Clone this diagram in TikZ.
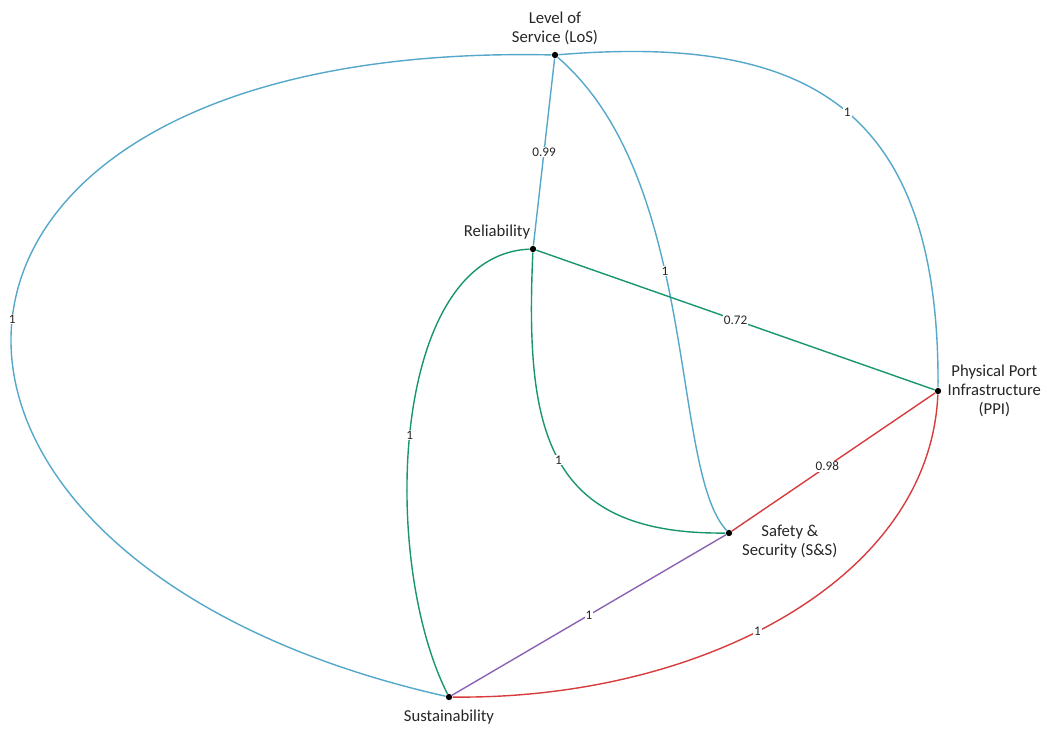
\documentclass[tikz,border=0pt]{standalone}
\usepackage{fontspec}
\setmainfont{Carlito}
\usepackage{xcolor}
\usepackage{tikz}
\definecolor{losblue}{RGB}{85,168,202}
\definecolor{relgreen}{RGB}{25,150,110}
\definecolor{ppired}{RGB}{215,60,62}
\definecolor{sspurple}{RGB}{140,98,180}
\tikzset{dot/.style={circle, fill=black, inner sep=0pt, minimum size=3.6pt}, lbl/.style={font=\fontsize{9.5}{11}\selectfont, align=center, text=black!85}, wlbl/.style={fill=white, inner sep=0.6pt, font=\fontsize{7.5}{8}\selectfont, text=black!85}, edge/.style={line width=0.8pt}}

\begin{document}
\begin{tikzpicture}[x=0.2mm, y=-0.2mm]
\useasboundingbox (0,0) rectangle (1047,731);
 \node[dot, label={[lbl]above:Level of\\Service (LoS)}] (los) at (555,55) {};
 \node[dot, label={[lbl, xshift=4pt, label distance=1pt]above left:Reliability}] (rel) at (533,249) {};
 \node[dot, label={[lbl, label distance=0pt]right:Physical Port\\Infrastructure\\(PPI)}] (ppi) at (938,391) {};
 \node[dot, label={[lbl, yshift=-5pt, label distance=2pt]right:Safety \&\\Security (S\&S)}] (ss) at (729,533) {};
 \node[dot, label={[lbl, label distance=2pt]below:Sustainability}] (sus) at (449,697) {};
 % blue edges
 \draw[edge, losblue] (los) .. controls (-140,40) and (-160,560) .. node[wlbl, pos=0.5] (w1) {1} (sus);
 \draw[edge, losblue] (los) .. controls (800,35) and (940,100) .. node[wlbl, pos=0.52] (w2) {1} (ppi);
 \draw[edge, losblue] (los) .. controls (700,180) and (670,470) .. node[wlbl, pos=0.42] (w3) {1} (ss);
 \draw[edge, losblue] (los) -- node[wlbl] (w4) {0.99} (rel);
 % green edges
 \draw[edge, relgreen] (rel) -- node[wlbl] (w5) {0.72} (ppi);
 \draw[edge, relgreen] (rel) .. controls (525,430) and (545,535) .. node[wlbl, pos=0.5] (w6) {1} (ss);
 \draw[edge, relgreen] (rel) .. controls (390,255) and (380,560) .. node[wlbl, pos=0.52] (w7) {1} (sus);
 % red edges
 \draw[edge, ppired] (ppi) -- node[wlbl, pos=0.53] (w8) {0.98} (ss);
 \draw[edge, ppired] (ppi) .. controls (930,580) and (700,700) .. node[wlbl, pos=0.55] (w9) {1} (sus);
 % purple edge
 \draw[edge, sspurple] (ss) -- node[wlbl] (w10) {1} (sus);
\end{tikzpicture}
\end{document}
